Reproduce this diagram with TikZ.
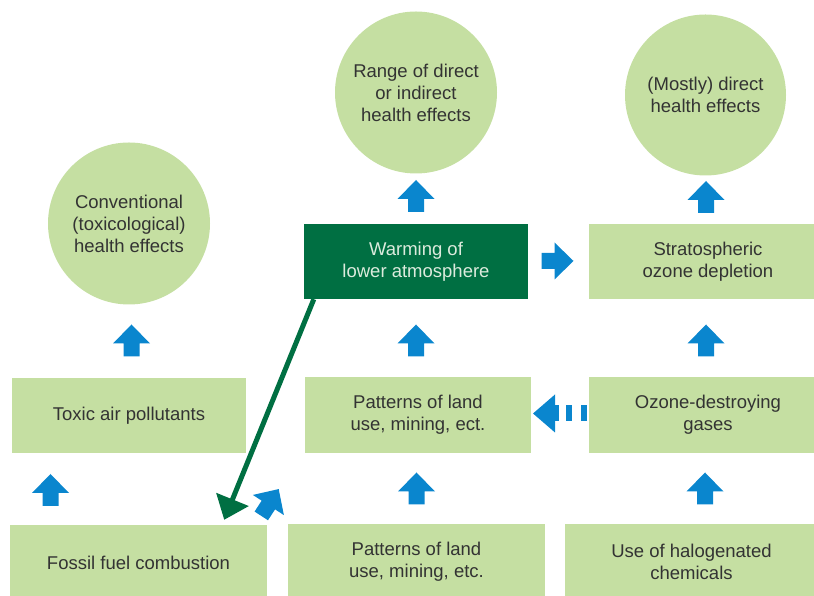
\documentclass[tikz,border=0pt]{standalone}
\usepackage{fontspec}
\setmainfont{Liberation Sans}
\usetikzlibrary{arrows.meta,calc}
\definecolor{lgreen}{HTML}{C5DFA2}
\definecolor{dgreen}{HTML}{006F42}
\definecolor{ablue}{HTML}{0A86CE}
\definecolor{txt}{HTML}{333333}
\definecolor{wtxt}{HTML}{DCEBDD}
\begin{document}
\begin{tikzpicture}[x=1pt,y=1pt,
  box/.style={rectangle, fill=lgreen, inner sep=0pt, align=center, text=txt,
    font=\fontsize{18.5}{22}\selectfont},
  circ/.style={circle, fill=lgreen, inner sep=0pt, align=center, text=txt,
    font=\fontsize{18.5}{22}\selectfont},
  blockarrow/.pic={\fill[ablue] (0,16) -- (18.5,-3) -- (8,-3) -- (8,-16) -- (-8,-16) -- (-8,-3) -- (-18.5,-3) -- cycle;}
]
\useasboundingbox (0,0) rectangle (814,596);
\clip (0,0) rectangle (814,596);

% circles
\node[circ, minimum size=162] (c1) at (129,372.5) {Conventional\\(toxicological)\\health effects};
\node[circ, minimum size=162] (c2) at (416,503.5) {Range of direct\\or indirect\\health effects};
\node[circ, minimum size=161] (c3) at (705.5,501) {(Mostly) direct\\health effects};

% boxes
\node[box, minimum width=234, minimum height=75] (toxic) at (129,180.5) {Toxic air pollutants};
\node[box, minimum width=257, minimum height=75] (fossil) at (138.5,33.5) {Fossil fuel combustion};
\node[box, minimum width=226, minimum height=76] (landmid) at (418,181) {Patterns of land\\use, mining, ect.};
\node[box, minimum width=257, minimum height=76] (landbot) at (416.5,34) {Patterns of land\\use, mining, etc.};
\node[box, fill=dgreen, text=wtxt, minimum width=224, minimum height=75] (warm) at (416,334.5) {Warming of\\lower atmosphere};
\node[box, minimum width=238, minimum height=75] (strat) at (708,334.5) {Stratospheric\\ozone depletion};
\node[box, minimum width=238, minimum height=76] (ozone) at (708,181) {Ozone-destroying\\gases};
\node[box, minimum width=253, minimum height=76] (halo) at (691.5,34) {Use of halogenated\\chemicals};

% blue block arrows
\pic at (50.5,106) {blockarrow};
\pic at (416.5,107.5) {blockarrow};
\pic at (705,107.5) {blockarrow};
\pic at (131.5,255.5) {blockarrow};
\pic at (416,255.5) {blockarrow};
\pic at (706,255.5) {blockarrow};
\pic at (416,400) {blockarrow};
\pic at (706,399) {blockarrow};
\pic[rotate=-90] at (557.5,335) {blockarrow};
\pic[rotate=-33] at (270,93.5) {blockarrow};

% dashed arrow from ozone to landmid
\fill[ablue] (533,182.5) -- (555,201.5) -- (555,163.5) -- cycle;
\fill[ablue] (555,174.5) rectangle (559,190.5);
\fill[ablue] (566,174.5) rectangle (572,190.5);
\fill[ablue] (581,174.5) rectangle (587,190.5);

% green arrow
\coordinate (gtip) at ($(fossil.north east)+(-43,5)$);
\draw[dgreen, line width=5pt, -{Triangle[length=22pt,width=34pt]}]
  ($(warm.south west)+(10,0)$) -- (gtip);
\end{tikzpicture}
\end{document}
